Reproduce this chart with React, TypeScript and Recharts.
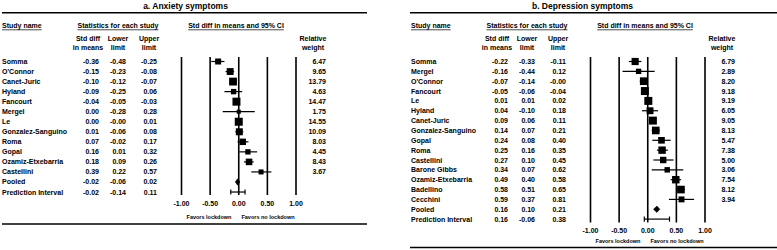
import React from 'react';
import { ScatterChart, Scatter, XAxis, YAxis, ErrorBar, ReferenceLine } from 'recharts';

const axisTicks = [-1, -0.5, 0, 0.5, 1];

const anxietyStudies = ['Somma', "O'Connor", 'Canet-Juric', 'Hyland', 'Fancourt', 'Mergel', 'Le', 'Gonzalez-Sanguino', 'Roma', 'Gopal', 'Ozamiz-Etxebarria', 'Castellini', 'Pooled', 'Prediction Interval'];
const anxietySmd = [-0.36, -0.15, -0.10, -0.09, -0.04, 0.00, 0.00, 0.01, 0.07, 0.16, 0.18, 0.39, -0.02, -0.02];
const anxietyLower = [-0.48, -0.23, -0.12, -0.25, -0.05, -0.28, -0.004, -0.06, -0.02, 0.01, 0.09, 0.22, -0.06, -0.14];
const anxietyUpper = [-0.25, -0.08, -0.07, 0.06, -0.03, 0.28, 0.01, 0.08, 0.17, 0.32, 0.26, 0.57, 0.02, 0.11];
const anxietyWeight = [6.47, 9.65, 13.79, 4.63, 14.47, 1.75, 14.55, 10.09, 8.03, 4.45, 8.43, 3.67];

const depressionStudies = ['Somma', 'Mergel', "O'Connor", 'Fancourt', 'Le', 'Hyland', 'Canet-Juric', 'Gonzalez-Sanguino', 'Gopal', 'Roma', 'Castellini', 'Barone Gibbs', 'Ozamiz-Etxebarria', 'Badellino', 'Cecchini', 'Pooled', 'Prediction Interval'];
const depressionSmd = [-0.22, -0.16, -0.07, -0.05, 0.01, 0.04, 0.09, 0.14, 0.24, 0.25, 0.27, 0.34, 0.49, 0.58, 0.59, 0.16, 0.16];
const depressionLower = [-0.33, -0.44, -0.14, -0.06, 0.01, -0.10, 0.06, 0.07, 0.08, 0.16, 0.10, 0.07, 0.40, 0.51, 0.37, 0.10, -0.06];
const depressionUpper = [-0.11, 0.12, -0.004, -0.04, 0.02, 0.18, 0.11, 0.21, 0.40, 0.35, 0.45, 0.62, 0.58, 0.65, 0.81, 0.21, 0.38];
const depressionWeight = [6.79, 2.89, 8.20, 9.18, 9.19, 6.05, 9.05, 8.13, 5.47, 7.38, 5.00, 3.06, 7.54, 8.12, 3.94];

const FONT = 'Liberation Sans, Arial, sans-serif';
const fmt = (v: number) => v.toFixed(2);

type Row = { name: string; i: number; smd: number; lower: number; upper: number; weight?: number };

function buildRows(names: string[], smd: number[], lower: number[], upper: number[], weight: number[]): Row[] {
  return names.map((name, i) => ({ name, i, smd: smd[i], lower: lower[i], upper: upper[i], weight: weight[i] }));
}

const COL = { name: 2, smdEnd: 99, lowerEnd: 126, upperEnd: 157, weightEnd: 326 };

function RowTick(props: any) {
  const { y, payload, rows } = props;
  const r: Row = rows[Math.round(payload.value)];
  if (!r) return null;
  const common = { y, fontFamily: FONT, fontSize: 7, fontWeight: 700, fill: '#000', dominantBaseline: 'central' as const };
  return (
    <g>
      <text x={COL.name} {...common}>{r.name}</text>
      <text x={COL.smdEnd} textAnchor="end" {...common}>{fmt(r.smd)}</text>
      <text x={COL.lowerEnd} textAnchor="end" {...common}>{fmt(r.lower)}</text>
      <text x={COL.upperEnd} textAnchor="end" {...common}>{fmt(r.upper)}</text>
      {r.weight !== undefined && <text x={COL.weightEnd} textAnchor="end" {...common}>{fmt(r.weight)}</text>}
    </g>
  );
}

function AxisTick(props: any) {
  const { x, payload, tickY } = props;
  return (
    <text x={x} y={tickY} textAnchor="middle" dominantBaseline="central" fontFamily={FONT} fontSize={7} fontWeight={700} fill="#000">
      {fmt(payload.value)}
    </text>
  );
}

type PanelProps = {
  rows: Row[];
  nStudies: number;
  firstY: number;
  step: number;
  lineTop: number;
  lineBottom: number;
  tickY: number;
};

function ForestPanel({ rows, nStudies, firstY, step, lineTop, lineBottom, tickY }: PanelProps) {
  const W = 390;
  const H = 250;
  const xAxisH = 20;
  const yMin = (lineTop - firstY) / step;
  const yMax = (lineBottom - firstY) / step;
  const wmax = Math.max(...rows.slice(0, nStudies).map((r) => r.weight as number));
  const studies = rows.slice(0, nStudies).map((r) => ({
    x: r.smd,
    y: r.i,
    err: [r.smd - r.lower, r.upper - r.smd],
    w: r.weight as number,
  }));
  const pooled = rows[nStudies];
  const pred = rows[nStudies + 1];
  const dh = 0.32;
  const diamond = [
    { x: pooled.lower, y: pooled.i },
    { x: pooled.smd, y: pooled.i - dh },
    { x: pooled.upper, y: pooled.i },
    { x: pooled.smd, y: pooled.i + dh },
    { x: pooled.lower, y: pooled.i },
  ];
  const predData = [{ x: pred.smd, y: pred.i, err: [pred.smd - pred.lower, pred.upper - pred.smd] }];

  return (
    <ScatterChart
      width={W}
      height={H}
      margin={{ top: lineTop, right: 94, bottom: H - lineBottom - xAxisH, left: 180.5 }}
    >
      <XAxis
        type="number"
        dataKey="x"
        domain={[-1, 1]}
        allowDataOverflow
        ticks={axisTicks}
        interval={0}
        axisLine={false}
        tickLine={false}
        height={xAxisH}
        tick={<AxisTick tickY={tickY} />}
      />
      <YAxis
        type="number"
        dataKey="y"
        domain={[yMin, yMax]}
        allowDataOverflow
        reversed
        width={1}
        ticks={rows.map((r) => r.i)}
        interval={0}
        axisLine={false}
        tickLine={false}
        tick={<RowTick rows={rows} />}
      />
      {axisTicks.map((t) => (
        <ReferenceLine key={t} x={t} stroke="#000" strokeWidth={1.6} />
      ))}
      <Scatter
        data={studies}
        isAnimationActive={false}
        fill="#000"
        shape={(p: any) => {
          const s = 2 + 6 * Math.sqrt(p.payload.w / wmax);
          return <rect x={p.cx - s / 2} y={p.cy - s / 2} width={s} height={s} fill="#000" />;
        }}
      >
        <ErrorBar dataKey="err" direction="x" width={0} stroke="#000" strokeWidth={1.2} />
      </Scatter>
      <Scatter
        data={diamond}
        isAnimationActive={false}
        fill="#000"
        line={{ fill: '#000', stroke: '#000', strokeWidth: 0.6 }}
        lineType="joint"
        shape={() => <g />}
      />
      <Scatter data={predData} isAnimationActive={false} fill="#000" shape={() => <g />}>
        <ErrorBar dataKey="err" direction="x" width={2.6} stroke="#000" strokeWidth={1.2} />
      </Scatter>
    </ScatterChart>
  );
}

const txt = { fontFamily: FONT, fontSize: 7, fontWeight: 700, fill: '#000', dominantBaseline: 'central' as const };

function Headers({ ox, title, titleX, favorsY, bottomY, lineStart, lineEnd }: any) {
  const u = { textDecoration: 'underline' };
  return (
    <g>
      <text x={titleX} y={5.5} textAnchor="middle" {...txt} fontSize={8.5}>{title}</text>
      <line x1={lineStart} x2={lineEnd} y1={12.7} y2={12.7} stroke="#000" strokeWidth={1.5} />
      <text x={ox + 2} y={25} {...txt} style={u}>Study name</text>
      <text x={ox + 118} y={25} textAnchor="middle" {...txt} style={u}>Statistics for each study</text>
      <text x={ox + 236} y={25} textAnchor="middle" {...txt} style={u}>Std diff in means and 95% CI</text>
      <text x={ox + 88} y={38.5} textAnchor="middle" {...txt}>Std diff</text>
      <text x={ox + 88} y={47.5} textAnchor="middle" {...txt}>in means</text>
      <text x={ox + 118} y={38.5} textAnchor="middle" {...txt}>Lower</text>
      <text x={ox + 118} y={47.5} textAnchor="middle" {...txt}>limit</text>
      <text x={ox + 149} y={38.5} textAnchor="middle" {...txt}>Upper</text>
      <text x={ox + 149} y={47.5} textAnchor="middle" {...txt}>limit</text>
      <text x={ox + 313} y={38.5} textAnchor="middle" {...txt}>Relative</text>
      <text x={ox + 313} y={47.5} textAnchor="middle" {...txt}>weight</text>
      <text x={ox + 209} y={favorsY} textAnchor="middle" {...txt} fontSize={5.5}>Favors lockdown</text>
      <text x={ox + 268} y={favorsY} textAnchor="middle" {...txt} fontSize={5.5}>Favors no lockdown</text>
      <line x1={lineStart} x2={lineEnd} y1={bottomY} y2={bottomY} stroke="#000" strokeWidth={1.5} />
    </g>
  );
}

export default function App() {
  const anxRows = buildRows(anxietyStudies, anxietySmd, anxietyLower, anxietyUpper, anxietyWeight);
  const depRows = buildRows(depressionStudies, depressionSmd, depressionLower, depressionUpper, depressionWeight);
  return (
    <div style={{ position: 'absolute', left: 0, top: 0, width: 777, height: 250, overflow: 'hidden', background: '#fff' }}>
      <svg width={777} height={250} style={{ position: 'absolute', left: 0, top: 0 }}>
        <Headers ox={0} title="a. Anxiety symptoms" titleX={185.5} favorsY={217} bottomY={224} lineStart={2} lineEnd={367} />
        <Headers ox={409} title="b. Depression symptoms" titleX={582.5} favorsY={241} bottomY={247.5} lineStart={410} lineEnd={777} />
      </svg>
      <div style={{ position: 'absolute', left: 0, top: 0 }}>
        <ForestPanel rows={anxRows} nStudies={anxietyWeight.length} firstY={61.5} step={10.04} lineTop={57} lineBottom={195} tickY={203} />
      </div>
      <div style={{ position: 'absolute', left: 409, top: 0 }}>
        <ForestPanel rows={depRows} nStudies={depressionWeight.length} firstY={61.5} step={9.85} lineTop={57} lineBottom={222.5} tickY={230} />
      </div>
    </div>
  );
}
